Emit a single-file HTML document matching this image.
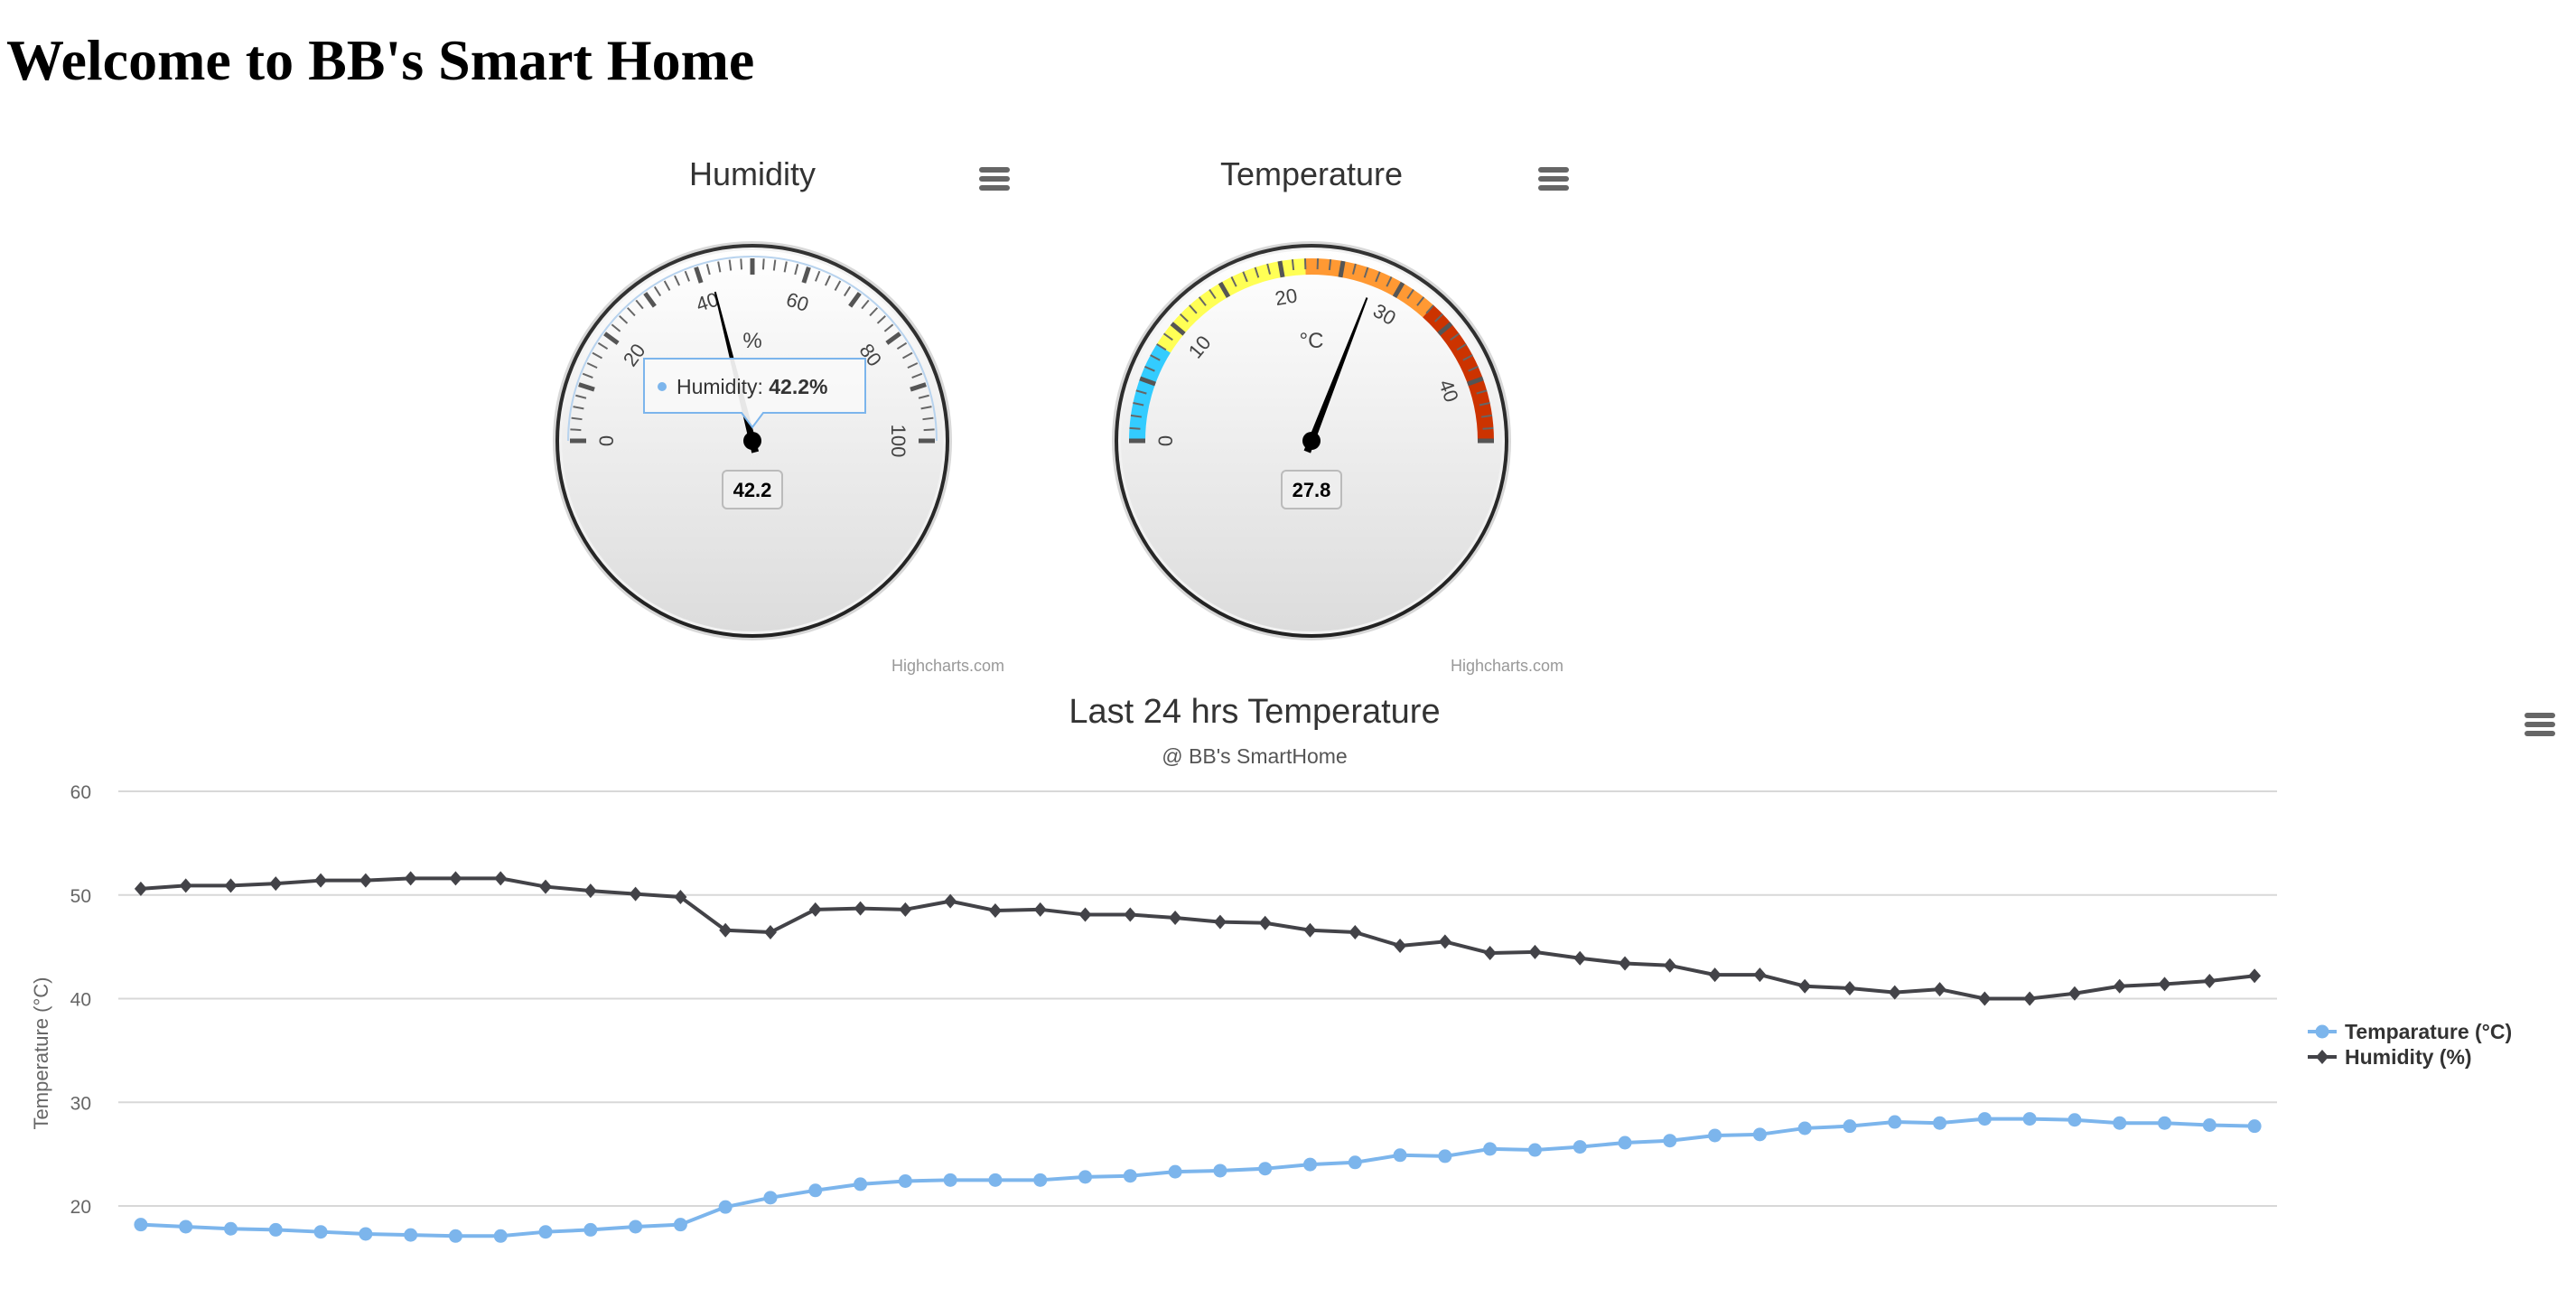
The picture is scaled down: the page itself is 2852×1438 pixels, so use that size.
<!DOCTYPE html>
<html><head><meta charset="utf-8"><style>
html,body{margin:0;padding:0;background:#fff;width:2852px;height:1438px;overflow:hidden}
svg text{font-family:"Liberation Sans","DejaVu Sans",sans-serif}
h1{position:absolute;left:7px;top:30px;margin:0;font-family:"Liberation Serif",serif;font-size:64px;font-weight:bold;color:#000}
</style></head><body>
<h1>Welcome to BB's Smart Home</h1>
<svg id="s" width="2852" height="1438" viewBox="0 0 2852 1438" style="position:absolute;left:0;top:0" xmlns="http://www.w3.org/2000/svg">
<defs>
<linearGradient id="face" x1="0" y1="0" x2="0" y2="1"><stop offset="0" stop-color="#ffffff"/><stop offset="1" stop-color="#dcdcdc"/></linearGradient>
<linearGradient id="rim" x1="0" y1="0" x2="0" y2="1"><stop offset="0" stop-color="#333"/><stop offset="1" stop-color="#222"/></linearGradient>
</defs>
<g id="gauges"></g>
<g id="chart"></g>
</svg>
<script>
// ---- line chart data ----
const humidity = [50.6,50.9,50.9,51.1,51.4,51.4,51.6,51.6,51.6,50.8,50.4,50.1,49.8,46.6,46.4,48.6,48.7,48.6,49.4,48.5,48.6,48.1,48.1,47.8,47.4,47.3,46.6,46.4,45.1,45.5,44.4,44.5,43.9,43.4,43.2,42.3,42.3,41.2,41.0,40.6,40.9,40.0,40.0,40.5,41.2,41.4,41.7,42.2];
const temperature = [18.2,18.0,17.8,17.7,17.5,17.3,17.2,17.1,17.1,17.5,17.7,18.0,18.2,19.9,20.8,21.5,22.1,22.4,22.5,22.5,22.5,22.8,22.9,23.3,23.4,23.6,24.0,24.2,24.9,24.8,25.5,25.4,25.7,26.1,26.3,26.8,26.9,27.5,27.7,28.1,28.0,28.4,28.4,28.3,28.0,28.0,27.8,27.7];
const yTicks = [20,30,40,50,60];
// ---- gauge data ----
const humidityValue = 42.2;
const temperatureValue = 27.8;
const tempBands = [[0,8,'#33ccff'],[8,22,'#ffff55'],[22,33,'#ff9933'],[33,45,'#cc3300']];

const NS='http://www.w3.org/2000/svg';
function el(tag,attrs,parent,txt){const e=document.createElementNS(NS,tag);for(const k in attrs)e.setAttribute(k,attrs[k]);if(txt!==undefined)e.textContent=txt;parent.appendChild(e);return e;}
const G=document.getElementById('gauges'), C=document.getElementById('chart');

function menuIcon(x,y,name,parent){
  const g=el('g',{},parent);
  
  
  for(let i=0;i<3;i++) el('rect',{x:x-17,y:y-12+i*10,width:34,height:6,rx:3,fill:'#666'},g);
}

function gauge(cx,cy,min,max,value,title,unit,name,bands,minorStep,majorStep,labelStep){
  const g=el('g',{},G);
  
  
  const R=221;
  el('circle',{cx,cy,r:R,fill:'#d8d8d8'},g);
  el('circle',{cx,cy,r:R-3,fill:'url(#rim)'},g);
  el('circle',{cx,cy,r:R-7,fill:'#f2f2f2'},g);
  el('circle',{cx,cy,r:R-10,fill:'url(#face)'},g);
  const t=el('text',{x:cx,y:205,'text-anchor':'middle','font-size':36,fill:'#333'},g,title);
  
  
  const ang=v=>(-90+(v-min)/(max-min)*180)*Math.PI/180;
  const pt=(v,r)=>[cx+r*Math.sin(ang(v)),cy-r*Math.cos(ang(v))];
  if(bands){
    for(const b of bands){
      const [x1,y1]=pt(b[0],202),[x2,y2]=pt(b[1],202),[x3,y3]=pt(b[1],184),[x4,y4]=pt(b[0],184);
      const p=el('path',{d:`M${x1},${y1} A202,202 0 0 1 ${x2},${y2} L${x3},${y3} A184,184 0 0 0 ${x4},${y4}Z`,fill:b[2]},g);
      
      
    }
  } else {
    const [a1,b1]=pt(min,204),[a2,b2]=pt(max,204);
    el('path',{d:`M${a1},${b1} A204,204 0 0 1 ${a2},${b2}`,fill:'none',stroke:'#b8d3ee','stroke-width':2},g);
  }
  for(let v=min; v<=max+1e-6; v+=minorStep){
    const major=Math.abs(v/majorStep-Math.round(v/majorStep))<1e-6;
    const [x1,y1]=pt(v,202),[x2,y2]=pt(v,major?184:190);
    el('line',{x1,y1,x2,y2,stroke:major?'#555':'#666','stroke-width':major?5:2},g);
  }
  for(let v=min; v<=max+1e-6; v+=labelStep){
    const [x,y]=pt(v,160);
    const deg=-90+(v-min)/(max-min)*180;
    el('text',{x,y,'text-anchor':'middle','dominant-baseline':'middle','font-size':22,fill:'#444',transform:`rotate(${deg} ${x} ${y})`},g,String(v));
  }
  el('text',{x:cx,y:cy-103,'text-anchor':'middle','font-size':24,fill:'#444'},g,unit);
  const a=ang(value),tip=pt(value,170);
  const px=Math.cos(a),py=Math.sin(a);
  const tail=pt(value,-12);
  const n=el('path',{d:`M${tail[0]-px*3},${tail[1]-py*3} L${tip[0]},${tip[1]} L${tail[0]+px*3},${tail[1]+py*3}Z`,fill:'#000',stroke:'#000','stroke-width':2},g);
  
  
  el('circle',{cx,cy,r:10,fill:'#000'},g);
  const box=el('rect',{x:cx-33,y:cy+33,width:66,height:42,rx:5,fill:'#eee',stroke:'#bbb','stroke-width':2},g);
  
  
  el('text',{x:cx,y:cy+62,'text-anchor':'middle','font-size':22,'font-weight':'bold',fill:'#000'},g,value.toFixed(1));
  const cr=el('text',{x:cx+292-13,y:cy+260-5,'text-anchor':'end','font-size':18,fill:'#999'},g,'Highcharts.com');
  
  
  menuIcon(cx+268,197,name+'-menu-button',g);
}
gauge(833,488,0,100,humidityValue,'Humidity','%','humidity-gauge',null,2,10,20);
gauge(1457-5,488,0,45,temperatureValue,'Temperature','°C','temperature-gauge',tempBands,1,5,10);

(function(){
  const g=el('g',{},G);
  
  
  el('path',{d:'M713,397 H958 V457 H845 L833,473 L821,457 H713 Z',fill:'rgba(249,249,249,0.93)',stroke:'#7cb5ec','stroke-width':2},g);
  el('circle',{cx:733,cy:428,r:5,fill:'#7cb5ec'},g);
  const t=el('text',{x:749,y:436,'font-size':23,fill:'#333'},g,'Humidity: ');
  el('tspan',{'font-weight':'bold'},t,'42.2%');
})();

// ---- line chart ----
const plotL=131, plotR=2521, n=temperature.length;
const xPos=i=>plotL+(i+0.5)*(plotR-plotL)/n;
const yPos=v=>1335-(v-20)*45.9/4;
const title=el('text',{x:1389,y:800,'text-anchor':'middle','font-size':38,fill:'#333'},C,'Last 24 hrs Temperature');


const sub=el('text',{x:1389,y:845,'text-anchor':'middle','font-size':23,fill:'#555'},C,"@ BB's SmartHome");


menuIcon(2812,801,'chart-menu-button',C);
for(const v of yTicks){
  const gl=el('line',{x1:plotL,x2:plotR,y1:yPos(v),y2:yPos(v),stroke:'#d8d8d8','stroke-width':2},C);
  
  
  const tl=el('text',{x:101,y:yPos(v)+8,'text-anchor':'end','font-size':21,fill:'#666'},C,String(v));
  
  
}
const yt=el('text',{x:53,y:1166,'text-anchor':'middle','font-size':22,fill:'#666',transform:'rotate(-90 53 1166)'},C,'Temperature (°C)');



function series(data,color,marker,name){
  const g=el('g',{},C);
  
  
  el('path',{d:data.map((v,i)=>(i?'L':'M')+xPos(i)+','+yPos(v)).join(' '),fill:'none',stroke:color,'stroke-width':4,'stroke-linejoin':'round'},g);
  data.forEach((v,i)=>{
    const x=xPos(i),y=yPos(v);
    const m = marker==='circle' ? el('circle',{cx:x,cy:y,r:7.5,fill:color},g)
      : el('path',{d:`M${x},${y-8} L${x+7},${y} L${x},${y+8} L${x-7},${y}Z`,fill:color},g);
    
    
  });
}
series(humidity,'#434348','diamond','humidity-series');
series(temperature,'#7cb5ec','circle','temperature-series');

function legend(y,color,marker,label,name){
  const g=el('g',{},C);
  
  
  el('line',{x1:2555,x2:2587,y1:y,y2:y,stroke:color,'stroke-width':4},g);
  if(marker==='circle') el('circle',{cx:2571,cy:y,r:7.5,fill:color},g);
  else el('path',{d:`M2571,${y-8} L2578,${y} L2571,${y+8} L2564,${y}Z`,fill:color},g);
  el('text',{x:2596,y:y+8,'font-size':23,'font-weight':'bold',fill:'#333'},g,label);
}
legend(1142,'#7cb5ec','circle','Temparature (°C)','legend-temperature');
legend(1170,'#434348','diamond','Humidity (%)','legend-humidity');
</script>
</body></html>
